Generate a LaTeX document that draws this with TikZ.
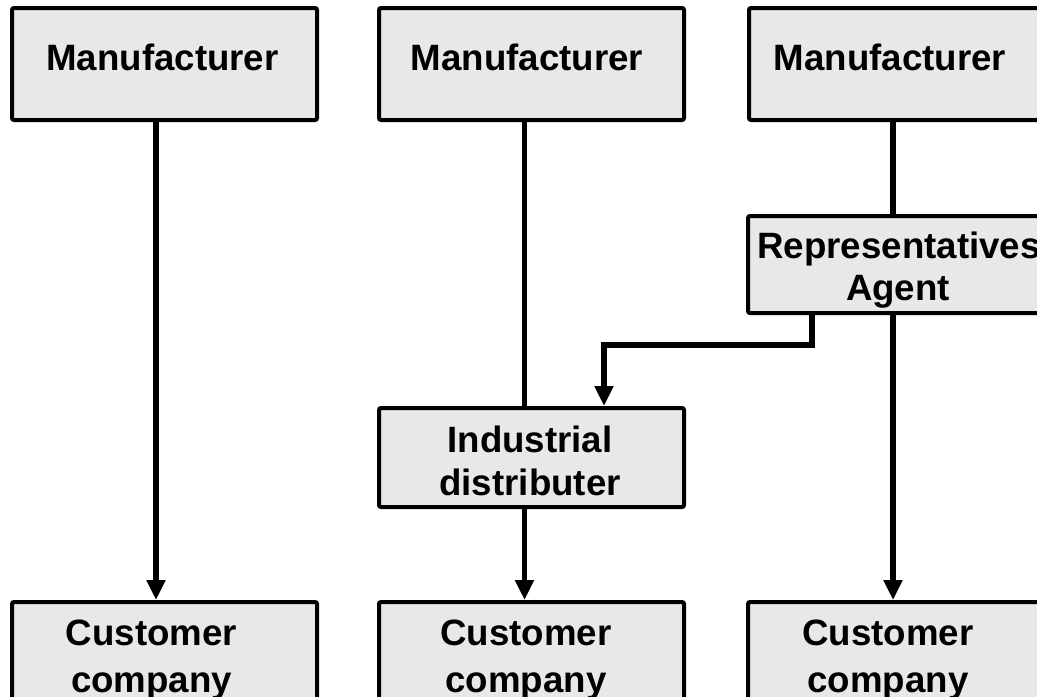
\documentclass[tikz,border=0pt]{standalone}
\usepackage{fontspec}
\setmainfont{Liberation Sans}
\usetikzlibrary{arrows.meta}
\definecolor{boxfill}{RGB}{232,232,232}
\begin{document}
\begin{tikzpicture}[x=0.75pt,y=-0.75pt,
  box/.style={draw=black, fill=boxfill, line width=3pt, rounded corners=1.5pt,
    inner sep=0pt, minimum width=228.75pt, minimum height=#1},
  box/.default=84pt,
  lbl/.style={anchor=base, inner sep=0pt, font=\bfseries\fontsize{27.5pt}{33pt}\selectfont},
  link/.style={line width=4pt},
  arr/.style={line width=4pt, -{Triangle[length=15pt,width=13.5pt]}}
]
\useasboundingbox (0,0) rectangle (1037,696);

% boxes
\node[box] (m1) at (164.5,64) {};
\node[box] (m2) at (531.5,64) {};
\node[box] (m3) at (901.5,64) {};
\node[box=72.75pt] (rep) at (900.5,264.5) {};
\node[box=74.25pt] (ind) at (531.5,457.5) {};
\node[box] (c1) at (164.5,658) {};
\node[box] (c2) at (531.5,658) {};
\node[box] (c3) at (900.5,658) {};

% labels
\node[lbl] (m1t) at (162.5,70) {Manufacturer};
\node[lbl] (m2t) at (527,70) {Manufacturer};
\node[lbl] (m3t) at (890,70) {Manufacturer};
\node[lbl] (rept1) at (899,258) {Representatives};
\node[lbl] (rept2) at (898,300) {Agent};
\node[lbl] (indt1) at (530,452) {Industrial};
\node[lbl] (indt2) at (530,495) {distributer};
\node[lbl] (c1t1) at (151.5,645) {Customer};
\node[lbl] (c1t2) at (151.5,692) {company};
\node[lbl] (c2t1) at (526,645) {Customer};
\node[lbl] (c2t2) at (526,692) {company};
\node[lbl] (c3t1) at (888,645) {Customer};
\node[lbl] (c3t2) at (888,692) {company};

% connector columns
\coordinate (xa) at (156,0);
\coordinate (xb) at (524.5,0);
\coordinate (xc) at (893,0);
\coordinate (xd) at (812,0);
\coordinate (xe) at (604,0);
\coordinate (ybend) at (0,345);

% connectors
\draw[arr] (m1.south -| xa) -- (c1.north -| xa);
\draw[link] (m2.south -| xb) -- (ind.north -| xb);
\draw[arr] (ind.south -| xb) -- (c2.north -| xb);
\draw[link] (m3.south -| xc) -- (rep.north -| xc);
\draw[arr] (rep.south -| xc) -- (c3.north -| xc);
\draw[arr] (rep.south -| xd) -- (xd |- ybend) -- (xe |- ybend) -- (ind.north -| xe);
\end{tikzpicture}
\end{document}
